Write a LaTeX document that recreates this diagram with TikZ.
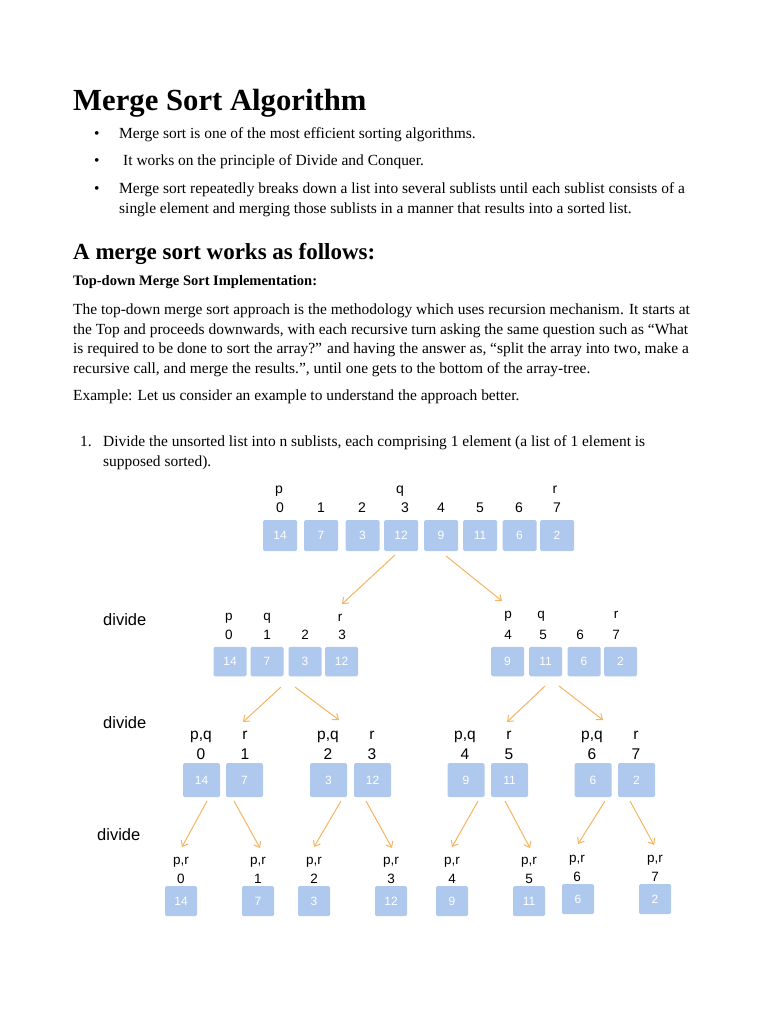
\documentclass[tikz,border=0pt]{standalone}
\usepackage{fontspec}
\setmainfont{Liberation Serif}
\newfontfamily\diagfont{Liberation Sans}
\usetikzlibrary{arrows.meta}
\definecolor{boxblue}{HTML}{AEC8EE}
\definecolor{arrorange}{HTML}{F7B35F}
\begin{document}
\begin{tikzpicture}[x=1pt,y=-1pt,
  txt/.style={anchor=base west, inner sep=0pt, font=\fontsize{15.45}{18}\selectfont},
  ttl/.style={anchor=base west, inner sep=0pt, font=\fontsize{30.7}{36}\selectfont\bfseries},
  hdg/.style={anchor=base west, inner sep=0pt, font=\fontsize{23}{27}\selectfont\bfseries},
  sub/.style={anchor=base west, inner sep=0pt, font=\fontsize{14.5}{18}\selectfont\bfseries},
  cell/.style={fill=boxblue, rounded corners=1.5pt, inner sep=0pt, text=white, font=\diagfont\fontsize{12}{14}\selectfont},
  cellA/.style={cell, minimum width=34pt, minimum height=31pt},
  cellB/.style={cell, minimum width=33pt, minimum height=29.5pt},
  cellC/.style={cell, minimum width=37pt, minimum height=34pt},
  cellD/.style={cell, minimum width=32pt, minimum height=30pt},
  lblA/.style={anchor=base, inner sep=0pt, font=\diagfont\fontsize{14}{16}\selectfont},
  lblB/.style={anchor=base, inner sep=0pt, font=\diagfont\fontsize{13.5}{16}\selectfont},
  lblC/.style={anchor=base, inner sep=0pt, font=\diagfont\fontsize{15.5}{18}\selectfont},
  lblD/.style={anchor=base, inner sep=0pt, font=\diagfont\fontsize{13.5}{16}\selectfont},
  dvd/.style={anchor=base west, inner sep=0pt, font=\diagfont\fontsize{16.5}{19}\selectfont},
  arr/.style={draw=arrorange, line width=1pt, -{Straight Barb[length=5pt,width=8pt]}}
]
\useasboundingbox (0,0) rectangle (768,1024);

% ---------- text ----------
\node[ttl] (title) at (73,111) {Merge Sort Algorithm};
\node[txt] (b1d) at (94,139) {•};
\node[txt] (b1) at (119,139) {Merge sort is one of the most efficient sorting algorithms.};
\node[txt] (b2d) at (94,166) {•};
\node[txt] (b2) at (123,166) {It works on the principle of Divide and Conquer.};
\node[txt] (b3d) at (94,194) {•};
\node[txt] (b3a) at (119,194) {Merge sort repeatedly breaks down a list into several sublists until each sublist consists of a};
\node[txt] (b3b) at (119,213.5) {single element and merging those sublists in a manner that results into a sorted list.};
\node[hdg] (head) at (73,259) {A merge sort works as follows:};
\node[sub] (subh) at (73,285.5) {Top-down Merge Sort Implementation:};
\node[txt] (p1) at (73,314.5) {The top-down merge sort approach is the methodology which uses recursion mechanism. It starts at};
\node[txt] (p2) at (73,334) {the Top and proceeds downwards, with each recursive turn asking the same question such as “What};
\node[txt] (p3) at (73,353.5) {is required to be done to sort the array?” and having the answer as, “split the array into two, make a};
\node[txt] (p4) at (73,373) {recursive call, and merge the results.”, until one gets to the bottom of the array-tree.};
\node[txt] (ex) at (73,400) {Example: Let us consider an example to understand the approach better.};
\node[txt] (n1) at (80,446) {1.};
\node[txt] (n1a) at (103,446) {Divide the unsorted list into n sublists, each comprising 1 element (a list of 1 element is};
\node[txt] (n1b) at (103,466) {supposed sorted).};

% ---------- row 1 ----------
\foreach \x/\v [count=\k] in {280/14, 321/7, 362.5/3, 401/12, 441/9, 480/11, 519.5/6, 557/2}{
  \node[cellA] (r1c\k) at (\x,535.5) {\v};
}
\foreach \x/\i [count=\k] in {280/0, 321/1, 362/2, 405/3, 441/4, 480/5, 519/6, 557/7}{
  \node[lblA] (r1i\k) at (\x,512) {\i};
}
\node[lblA] (r1p) at (279,493) {p};
\node[lblA] (r1q) at (400,493) {q};
\node[lblA] (r1r) at (555,493) {r};

% ---------- row 2 ----------
\node[dvd] (d2) at (103,625) {divide};
\foreach \x/\v [count=\k] in {230/14, 267/7, 305/3, 341.5/12, 507.5/9, 545.5/11, 584/6, 620.5/2}{
  \node[cellB] (r2c\k) at (\x,661.5) {\v};
}
\foreach \x/\i [count=\k] in {229/0, 267/1, 305/2, 342/3, 508/4, 543/5, 580/6, 616/7}{
  \node[lblB] (r2i\k) at (\x,639) {\i};
}
\node[lblB] (r2p1) at (229,620) {p};
\node[lblB] (r2q1) at (267,620) {q};
\node[lblB] (r2r1) at (340,621) {r};
\node[lblB] (r2p2) at (508,618) {p};
\node[lblB] (r2q2) at (541,618) {q};
\node[lblB] (r2r2) at (616,618) {r};

% ---------- row 3 ----------
\node[dvd] (d3) at (103,728) {divide};
\foreach \x/\v [count=\k] in {201.5/14, 244.5/7, 328.5/3, 372.5/12, 466/9, 509.5/11, 593/6, 636.5/2}{
  \node[cellC] (r3c\k) at (\x,780) {\v};
}
\foreach \x/\i [count=\k] in {201/0, 245/1, 328/2, 372/3, 465/4, 509/5, 592/6, 636/7}{
  \node[lblC] (r3i\k) at (\x,759) {\i};
}
\foreach \x/\t [count=\k] in {201/{p,q}, 245/r, 328/{p,q}, 372/r, 465/{p,q}, 509/r, 592/{p,q}, 636/r}{
  \node[lblC] (r3l\k) at (\x,739) {\t};
}

% ---------- row 4 ----------
\node[dvd] (d4) at (97,840) {divide};
\foreach \x/\y/\v [count=\k] in {181/901/14, 258/901/7, 314/901/3, 391/901/12, 452/901/9, 529/901/11, 578/899/6, 655/899/2}{
  \node[cellD] (r4c\k) at (\x,\y) {\v};
}
\foreach \x/\y/\i [count=\k] in {181/883/0, 258/883/1, 314/883/2, 391/883/3, 452/883/4, 529/883/5, 577/881/6, 655/881/7}{
  \node[lblD] (r4i\k) at (\x,\y) {\i};
  \node[lblD] (r4l\k) at (\x,\y-19) {p,r};
}

% ---------- arrows ----------
\coordinate (s1) at (395,555);   \coordinate (e1) at (342,604);
\coordinate (s2) at (446,556);   \coordinate (e2) at (502,601);
\draw[arr] (s1) -- (e1);
\draw[arr] (s2) -- (e2);

\coordinate (s3) at (281,687);   \coordinate (e3) at (243,722);
\coordinate (s4) at (295,687);   \coordinate (e4) at (339,720);
\coordinate (s5) at (545,686);   \coordinate (e5) at (507,722);
\coordinate (s6) at (559,686);   \coordinate (e6) at (603,720);
\foreach \n in {3,4,5,6}{ \draw[arr] (s\n) -- (e\n); }

\foreach \sx/\ex/\ey [count=\k] in {207/182/847, 234/260/848, 341/314/847, 366/392/848, 478/452/847, 505/530/848, 605/578/844, 630/654/845}{
  \coordinate (t\k) at (\sx,801);
  \coordinate (u\k) at (\ex,\ey);
  \draw[arr] (t\k) -- (u\k);
}
\end{tikzpicture}
\end{document}
